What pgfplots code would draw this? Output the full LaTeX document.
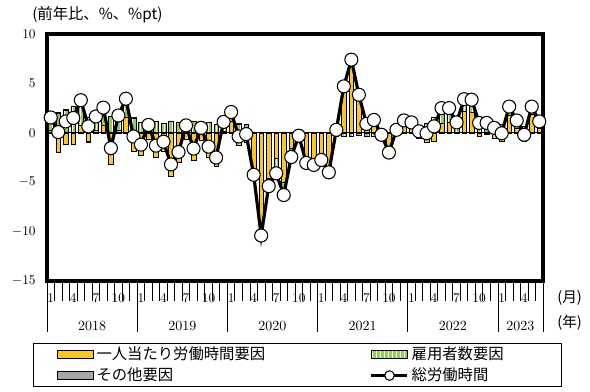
\documentclass[border=0pt]{standalone}
\usepackage{fontspec}
\usepackage{pgfplots}
\pgfplotsset{compat=1.18}
\usepackage{pgfplotstable}
\usetikzlibrary{patterns}
\newfontfamily\jp{Noto Sans CJK JP}
\definecolor{cOr}{HTML}{FFC000}
\definecolor{cGr}{HTML}{92D050}
\definecolor{cGy}{HTML}{A6A6A6}

% i: month index (0 = 2018/1), o: hours per person, g: employees, r: other, t: total hours
\pgfplotstableread{
i o g r t
0 0.3 1.2 0.05 1.55
1 -2.0 2.0 0.07 0.07
2 -1.2 2.3 0.05 1.15
3 -1.2 2.7 0.0 1.5
4 0.8 2.5 0.0 3.3
5 -0.9 1.6 -0.05 0.65
6 0.3 1.4 -0.05 1.65
7 0.8 1.7 0.05 2.55
8 -3.2 1.65 0.0 -1.55
9 0.3 1.4 0.05 1.75
10 1.6 1.8 0.05 3.45
11 -1.9 1.5 0.03 -0.37
12 -2.3 1.1 0.0 -1.2
13 -0.6 1.4 0.0 0.8
14 -2.5 1.2 0.0 -1.3
15 -1.9 1.0 0.0 -0.9
16 -4.4 1.2 0.0 -3.2
17 -3.0 1.05 0.0 -1.95
18 -0.6 1.35 0.0 0.75
19 -2.8 1.2 0.0 -1.6
20 -0.7 1.2 0.0 0.5
21 -2.5 1.1 0.0 -1.4
22 -3.4 0.9 0.0 -2.5
23 0.2 0.9 0.0 1.1
24 1.2 0.9 0.0 2.1
25 -1.3 0.9 0.03 -0.37
26 -1.0 0.87 0.0 -0.13
27 -4.2 -0.05 0.0 -4.25
28 -9.9 -0.5 0.0 -10.4
29 -4.6 -0.8 0.0 -5.4
30 -2.6 -0.9 -0.6 -4.1
31 -5.0 -1.0 -0.3 -6.3
32 -1.6 -0.8 -0.05 -2.45
33 -0.2 -0.5 0.4 -0.3
34 -2.4 -0.6 -0.05 -3.05
35 -2.6 -0.6 -0.05 -3.25
36 -2.2 -0.5 -0.05 -2.75
37 -3.5 -0.4 -0.1 -4.0
38 0.6 -0.3 0.0 0.3
39 5.0 -0.3 0.0 4.7
40 7.7 -0.3 0.0 7.4
41 4.1 -0.25 0.0 3.85
42 1.2 -0.3 0.0 0.9
43 1.6 -0.3 0.0 1.3
44 0.1 -0.3 0.0 -0.2
45 -1.7 -0.3 0.0 -2.0
46 0.2 0.1 0.0 0.3
47 0.9 0.35 0.0 1.25
48 0.6 0.45 0.0 1.05
49 -0.5 0.65 0.0 0.15
50 -1.0 0.95 0.0 -0.05
51 -0.9 1.55 0.0 0.65
52 1.0 1.5 0.0 2.5
53 1.1 1.4 0.0 2.5
54 0.0 1.0 0.05 1.05
55 2.2 1.2 0.0 3.4
56 2.1 1.25 0.0 3.35
57 -0.3 1.3 0.0 1.0
58 -0.1 1.1 0.0 1.0
59 -0.5 1.0 0.0 0.5
60 -0.9 0.85 0.0 -0.05
61 1.8 0.85 0.0 2.65
62 0.5 0.75 0.0 1.25
63 -0.9 0.7 0.0 -0.2
64 1.9 0.75 0.0 2.65
65 0.5 0.65 0.0 1.15
}\data

\tikzset{
  orb/.style={fill=cOr, draw=black, line width=0.3pt, postaction={pattern=crosshatch dots, pattern color=white}},
  grb/.style={fill=cGr, draw=black, line width=0.3pt, postaction={pattern=vertical lines, pattern color=white}},
  gyb/.style={fill=cGy, draw=black, line width=0.3pt},
}
\pgfplotsset{
  base/.style={
    scale only axis, width=372pt, height=185.25pt,
    at={(35.25pt,83.25pt)}, anchor=south west,
    xmin=-0.5, xmax=65.5, ymin=-15, ymax=10,
  },
  barax/.style={base, hide axis, ybar stacked, bar width=0.62},
}

\begin{document}
\begin{tikzpicture}[x=1pt,y=1pt]
\path[use as bounding box] (0,0) rectangle (442.5,294);

% negative parts
\begin{axis}[barax]
\addplot[orb] table[x=i, y expr={min(\thisrow{o},0)}] {\data};
\addplot[grb] table[x=i, y expr={min(\thisrow{g},0)}] {\data};
\addplot[gyb] table[x=i, y expr={min(\thisrow{r},0)}] {\data};
\end{axis}

% positive parts
\begin{axis}[barax]
\addplot[orb] table[x=i, y expr={max(\thisrow{o},0)}] {\data};
\addplot[grb] table[x=i, y expr={max(\thisrow{g},0)}] {\data};
\addplot[gyb] table[x=i, y expr={max(\thisrow{r},0)}] {\data};
\end{axis}

% main axis
\begin{axis}[base,
  clip=false,
  axis line style={line width=2.4pt},
  tick align=outside, xtick pos=bottom, ytick pos=left,
  ytick={-15,-10,...,10}, ytick style={draw=none},
  yticklabel style={font=\fontsize{10}{12}\selectfont, xshift=-5pt},
  xtick={0,3,...,63},
  xticklabels={1,4,7,10,1,4,7,10,1,4,7,10,1,4,7,10,1,4,7,10,1,4},
  major tick length=0pt,
  minor xtick={-0.5,0.5,...,65.5},
  minor tick length=15pt,
  extra x ticks={-0.5,11.5,23.5,35.5,47.5,59.5,65.5},
  extra x tick labels={},
  extra x tick style={major tick length=38pt},
  tick style={black, line width=0.6pt},
  xticklabel style={font=\fontsize{10}{12}\selectfont, anchor=center, yshift=-12.75pt},
  extra y ticks={0}, extra y tick labels={},
  extra y tick style={grid=major, major grid style={black, line width=0.5pt}},
  legend columns=2,
  legend cell align=left,
  legend style={at={(-0.0282,-0.251)}, anchor=north west, draw=black, line width=0.7pt,
    font=\jp\fontsize{11.5}{12}\selectfont, inner xsep=18pt, inner ysep=1.8pt, row sep=4pt,
    nodes={inner ysep=0.5pt}},
]
\addlegendimage{legend image code/.code={\draw[orb] (0pt,-3pt) rectangle (27pt,3pt);}}
\addlegendentry{\makebox[203pt][l]{一人当たり労働時間要因}}
\addlegendimage{legend image code/.code={\draw[grb] (0pt,-3pt) rectangle (27pt,3pt);}}
\addlegendentry{\makebox[92pt][l]{雇用者数要因}}
\addlegendimage{legend image code/.code={\draw[gyb] (0pt,-3pt) rectangle (27pt,3pt);}}
\addlegendentry{\makebox[203pt][l]{その他要因}}
\addplot[black, line width=2.4pt, mark=*, mark size=4.9pt,
  mark options={fill=white, draw=black, line width=0.8pt, solid},
  legend image code/.code={\draw[black, line width=2.4pt, mark=*, mark options={fill=white, draw=black, line width=0.8pt, solid}, mark repeat=2, mark phase=2, mark size=3.6pt] plot coordinates {(0pt,0pt) (13.5pt,0pt) (27pt,0pt)};}]
  table[x=i, y=t] {\data};
\addlegendentry{\makebox[92pt][l]{総労働時間}}

\node[font=\fontsize{10.5}{12}\selectfont, yshift=-34pt] at (axis cs:5.5,-15) {2018};
\node[font=\fontsize{10.5}{12}\selectfont, yshift=-34pt] at (axis cs:17.5,-15) {2019};
\node[font=\fontsize{10.5}{12}\selectfont, yshift=-34pt] at (axis cs:29.5,-15) {2020};
\node[font=\fontsize{10.5}{12}\selectfont, yshift=-34pt] at (axis cs:41.5,-15) {2021};
\node[font=\fontsize{10.5}{12}\selectfont, yshift=-34pt] at (axis cs:53.5,-15) {2022};
\node[font=\fontsize{10.5}{12}\selectfont, yshift=-34pt] at (axis cs:62.5,-15) {2023};
\node[font=\jp\fontsize{11}{12}\selectfont, xshift=20pt, yshift=-12.75pt] at (axis cs:65.5,-15) {(月)};
\node[font=\jp\fontsize{11}{12}\selectfont, xshift=20pt, yshift=-31pt] at (axis cs:65.5,-15) {(年)};
\end{axis}

\node[anchor=west, inner sep=0pt, font=\jp\fontsize{11.5}{12}\selectfont] at (24pt,282.75pt) {(前年比、\%、\%pt)};
\end{tikzpicture}
\end{document}
